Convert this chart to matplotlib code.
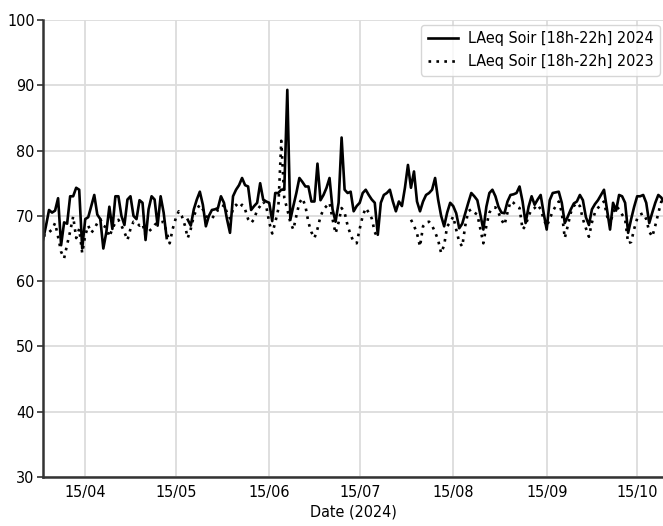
import numpy as np
import pandas as pd
import matplotlib
matplotlib.use("Agg")
import matplotlib.pyplot as plt
import matplotlib.dates as mdates
from matplotlib import font_manager as fm

nan = np.nan
start_date = "2024-04-01"

laeq_2024 = [
    66.3, 68.5, 70.9, 70.5, 70.8, 72.7, 65.5, 69.0, 68.8, 73.0,
    73.0, 74.3, 74.0, 65.0, 69.5, 69.8, 71.5, 73.2, 70.2, 69.5,
    65.0, 67.5, 71.4, 68.0, 73.0, 73.0, 70.0, 68.6, 72.5, 73.0,
    70.0, 69.5, 72.4, 72.0, 66.3, 71.0, 73.0, 72.5, 68.5, 73.0,
    70.5, 66.6, nan, nan, nan, nan, nan, nan, 69.4, 68.5,
    71.0, 72.5, 73.7, 71.7, 68.4, 70.0, 70.9, 71.0, 71.2, 73.0,
    72.0, 69.5, 67.4, 73.0, 74.0, 74.7, 75.8, 74.7, 74.5, 70.9,
    71.5, 72.0, 75.0, 72.5, 72.2, 72.0, 69.2, 73.5, 73.5, 74.0,
    74.0, 89.3, 69.4, 71.5, 73.5, 75.8, 75.2, 74.5, 74.5, 72.2,
    72.2, 78.0, 72.4, 73.2, 74.3, 75.8, 71.0, 69.1, 72.0, 82.0,
    74.0, 73.5, 73.7, 70.7, 71.5, 72.0, 73.5, 74.0, 73.2, 72.5,
    72.0, 67.1, 72.0, 73.2, 73.5, 74.0, 72.2, 70.7, 72.2, 71.5,
    74.3, 77.8, 74.3, 76.8, 72.2, 70.7, 72.2, 73.2, 73.5, 74.0,
    75.8, 72.5, 70.0, 68.4, 70.5, 72.0, 71.5, 70.4, 68.1, 68.8,
    70.4, 72.0, 73.5, 73.0, 72.4, 70.2, 67.9, 71.4, 73.5, 74.0,
    73.0, 71.4, 70.5, 70.4, 72.2, 73.2, 73.3, 73.5, 74.5, 72.2,
    68.9, 71.4, 73.0, 71.7, 72.5, 73.2, 70.4, 67.9, 72.4, 73.5,
    73.6, 73.7, 72.0, 68.9, 69.9, 71.0, 71.9, 72.2, 73.2, 72.4,
    69.8, 68.6, 71.0, 71.8, 72.4, 73.2, 74.0, 70.9, 67.9, 72.0,
    70.8, 73.2, 73.0, 72.0, 67.4, 69.5, 71.4, 73.0, 73.0, 73.2,
    72.0, 68.9, 70.5, 72.0, 73.2, 72.8, 72.0,
]

laeq_2023 = [
    67.0, 67.0, 67.5, 67.9, 68.9, 66.8, 64.5, 63.5, 65.6, 67.6,
    69.9, 66.6, 68.0, 64.3, 67.0, 68.5, 67.4, 68.0, 68.9, 69.5,
    68.5, 68.2, 66.8, 68.0, 69.0, 69.4, 68.5, 67.5, 66.3, 68.0,
    69.1, 69.0, 68.5, 68.8, 67.0, 67.6, 68.0, 68.6, 69.0, 69.0,
    69.1, 67.5, 65.8, 68.0, 69.6, 70.7, 70.0, 68.6, 66.6, 68.0,
    70.0, 71.0, 71.7, 71.0, 70.0, 69.6, 69.6, 70.2, 70.9, 71.0,
    71.7, 70.5, 69.6, 71.0, 71.7, 71.2, 71.7, 71.0, 69.5, 68.9,
    69.5, 70.9, 71.5, 72.2, 71.5, 69.0, 67.3, 69.0, 71.0, 81.5,
    72.7, 71.0, 69.0, 67.9, 70.0, 72.0, 72.7, 71.5, 69.0, 67.5,
    66.6, 68.0, 69.9, 71.0, 71.5, 72.0, 69.5, 67.3, 69.0, 71.2,
    70.5, 68.5, 67.1, 66.0, 65.8, 68.0, 70.0, 71.2, 70.5, 69.6,
    67.5, 66.6, nan, nan, nan, nan, nan, nan, nan, nan,
    nan, nan, 69.4, 68.5, 67.3, 65.3, 68.4, 69.0, 69.1, 68.5,
    67.5, 66.3, 64.3, 65.5, 68.4, 69.0, 69.9, 67.9, 66.0, 65.3,
    68.5, 70.7, 71.0, 70.5, 70.2, 68.0, 65.8, 68.5, 70.5, 71.2,
    71.3, 70.5, 69.4, 68.6, 70.5, 72.2, 72.0, 71.5, 71.2, 67.9,
    68.5, 70.0, 71.0, 71.2, 71.7, 71.0, 69.5, 68.4, 69.5, 70.7,
    71.5, 72.2, 70.5, 66.6, 68.5, 70.5, 71.5, 72.0, 71.5, 69.5,
    68.1, 66.8, 69.0, 70.5, 71.2, 71.8, 72.2, 70.0, 68.6, 70.5,
    71.5, 71.0, 70.2, 69.5, 65.8, 66.0, 68.0, 69.6, 70.2, 70.4,
    69.5, 67.6, 66.8, 68.5, 70.4, 72.2, 71.5,
]

series_labels = ["LAeq Soir [18h-22h] 2024", "LAeq Soir [18h-22h] 2023"]
x_label = "Date (2024)"
y_ticks = [30, 40, 50, 60, 70, 80, 90, 100]
x_tick_dates = ["2024-04-15", "2024-05-15", "2024-06-15", "2024-07-15",
                "2024-08-15", "2024-09-15", "2024-10-15"]

dates = pd.date_range(start_date, periods=len(laeq_2024), freq="D")

fam = "DejaVu Sans"
stretch = "normal"
try:
    f = fm.findfont(fm.FontProperties(family="DejaVu Sans", stretch="condensed"))
    if "Condensed" in f:
        stretch = "condensed"
except Exception:
    pass
plt.rcParams["font.family"] = [fam]
plt.rcParams["font.stretch"] = stretch
plt.rcParams["font.size"] = 11.5

fig = plt.figure(figsize=(6.63, 5.26), dpi=100)
ax = fig.add_axes([43 / 663, 49 / 526, 1 - 43 / 663 + 0.002, 457 / 526])

ax.plot(dates, laeq_2024, color="black", lw=1.9, label=series_labels[0])
ax.plot(dates, laeq_2023, color="black", lw=1.9, ls=(0, (1, 2.0)),
        label=series_labels[1])

ax.set_ylim(30, 100)
ax.set_yticks(y_ticks)
ax.set_xlim(pd.Timestamp("2024-04-01"), pd.Timestamp("2024-10-24"))
ax.set_xticks(pd.to_datetime(x_tick_dates))
ax.xaxis.set_major_formatter(mdates.DateFormatter("%d/%m"))
ax.set_xlabel(x_label, labelpad=3)

ax.grid(True, color="#dcdcdc", lw=1.3)
ax.set_axisbelow(True)
for s in ["top", "right"]:
    ax.spines[s].set_visible(False)
for s in ["left", "bottom"]:
    ax.spines[s].set_color("#333333")
    ax.spines[s].set_linewidth(1.8)
ax.tick_params(axis="y", length=4, width=1.2, color="#333333", pad=2)
ax.tick_params(axis="x", length=0, pad=6)

leg = ax.legend(loc="upper right", frameon=True, fancybox=True,
                handlelength=1.9, handletextpad=0.6, borderaxespad=0.3,
                fontsize=11.5)
leg.get_frame().set_edgecolor("#cccccc")
leg.get_frame().set_linewidth(1.0)

fig.savefig("out.png", dpi=100)
